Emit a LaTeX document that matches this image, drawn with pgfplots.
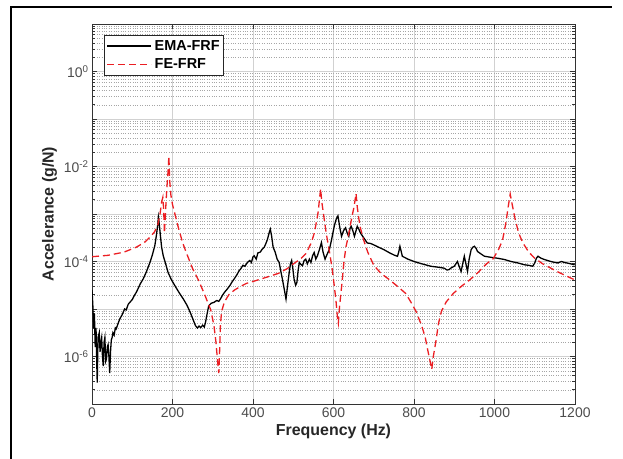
\documentclass[border=0pt]{standalone}
\usepackage{fontspec}
\setmainfont{Liberation Sans}
\usepackage{pgfplots}
\pgfplotsset{compat=1.18}
\definecolor{ferred}{RGB}{235,30,35}

\begin{document}
\begin{tikzpicture}
\path[use as bounding box] (0,0) rectangle (623bp,459bp);
% outer frame of the figure
\draw[line width=1.2bp] (11bp,0) -- (11bp,452bp) -- (612bp,452bp);
\begin{axis}[
    at={(92bp,55bp)}, anchor=south west,
    scale only axis,
    width=483bp, height=380bp,
    ymode=log,
    xmin=0, xmax=1200,
    ymin=1e-7, ymax=10,
    xtick={0,200,...,1200},
    xticklabels={0,200,400,600,800,1000,1200},
    ytick={1e-7,1e-6,1e-5,1e-4,1e-3,1e-2,1e-1,1,10},
    yticklabels={,10\textsuperscript{-6},,10\textsuperscript{-4},,10\textsuperscript{-2},,10\textsuperscript{0},},
    minor ytick={2e-7,3e-7,4e-7,5e-7,6e-7,7e-7,8e-7,9e-7,
                 2e-6,3e-6,4e-6,5e-6,6e-6,7e-6,8e-6,9e-6,
                 2e-5,3e-5,4e-5,5e-5,6e-5,7e-5,8e-5,9e-5,
                 2e-4,3e-4,4e-4,5e-4,6e-4,7e-4,8e-4,9e-4,
                 2e-3,3e-3,4e-3,5e-3,6e-3,7e-3,8e-3,9e-3,
                 2e-2,3e-2,4e-2,5e-2,6e-2,7e-2,8e-2,9e-2,
                 2e-1,3e-1,4e-1,5e-1,6e-1,7e-1,8e-1,9e-1,
                 2,3,4,5,6,7,8,9},
    grid=both,
    major grid style={black!18, line width=0.5bp},
    minor grid style={black!35, dotted, line width=0.4bp},
    xminorgrids=false,
    tick align=inside,
    major tick length=5bp, minor tick length=3bp,
    tick style={black!80, line width=0.5bp},
    axis line style={black!80, line width=0.8bp},
    ticklabel style={font=\fontsize{14}{16}\selectfont, text=black!70},
    xlabel={Frequency (Hz)},
    ylabel={Accelerance (g/N)},
    label style={font=\bfseries\fontsize{16}{18}\selectfont, text=black!85},
    legend style={at={(rel axis cs:0,1)}, anchor=north west,
        xshift=12bp, yshift=-11bp,
        draw=black!85, line width=0.8bp,
        font=\bfseries\fontsize{14.5}{16}\selectfont,
        inner xsep=2bp, inner ysep=3bp, row sep=3bp,
        /tikz/every odd column/.append style={column sep=1bp}},
    legend cell align=left,
    legend image code/.code={\draw[#1] (0bp,0bp) -- (44bp,0bp);},
]
\addplot[black, line width=1.3bp] coordinates {
(0,2.51e-5) (2,1.26e-5) (4,3.98e-6) (6,7.94e-6) (8,1.58e-6) (10,3.98e-6)
(12,6.31e-7) (13,2.82e-7) (15,2.51e-6) (18,3.16e-6) (20,1.26e-6) (22,2.00e-6)
(24,2.51e-6) (26,1.00e-6) (28,6.31e-7) (30,2.00e-6) (32,2.51e-6) (34,7.94e-7)
(36,8.91e-7) (38,1.58e-6) (40,1.78e-6) (42,1.00e-6) (44,4.47e-7) (46,1.26e-6)
(48,2.24e-6) (50,2.51e-6) (52,3.16e-6) (55,2.82e-6) (58,3.98e-6) (60,3.80e-6)
(65,5.01e-6) (69,6.17e-6) (75,7.59e-6) (81,1.00e-5) (85,9.55e-6) (90,1.26e-5)
(94,1.38e-5) (100,1.58e-5) (105,1.91e-5) (110,2.24e-5) (115,2.75e-5) (120,3.39e-5)
(127,4.27e-5) (135,6.03e-5) (144,9.55e-5) (150,1.38e-4) (156,2.14e-4) (160,3.55e-4)
(163,5.62e-4) (165,8.51e-4) (167,6.31e-4) (170,3.47e-4) (173,2.00e-4) (177,1.32e-4)
(183,8.91e-5) (189,5.89e-5) (197,4.17e-5) (206,3.09e-5) (216,2.24e-5) (227,1.62e-5)
(236,1.20e-5) (244,8.51e-6) (251,6.03e-6) (257,4.47e-6) (262,3.98e-6) (266,4.37e-6)
(270,4.07e-6) (275,4.57e-6) (279,4.17e-6) (282,5.25e-6) (286,7.94e-6) (290,1.17e-5)
(296,1.32e-5) (303,1.38e-5) (310,1.51e-5) (315,1.45e-5) (319,1.62e-5) (325,2.00e-5)
(330,2.29e-5) (336,2.63e-5) (343,3.16e-5) (348,3.72e-5) (353,4.27e-5) (360,5.25e-5)
(365,6.31e-5) (369,6.92e-5) (375,8.32e-5) (380,7.94e-5) (386,9.55e-5) (392,1.05e-4)
(396,9.55e-5) (400,1.26e-4) (403,1.32e-4) (408,1.12e-4) (412,1.51e-4) (418,1.58e-4)
(423,1.82e-4) (428,2.00e-4) (433,2.51e-4) (436,2.95e-4) (440,3.98e-4) (443,4.79e-4)
(446,3.55e-4) (450,2.00e-4) (455,1.58e-4) (460,1.12e-4) (465,9.55e-5) (469,6.31e-5)
(473,4.27e-5) (478,2.51e-5) (482,1.62e-5) (486,3.16e-5) (490,5.89e-5) (493,8.91e-5)
(496,1.05e-4) (499,7.08e-5) (502,4.27e-5) (506,3.16e-5) (509,3.63e-5) (512,6.31e-5)
(515,9.55e-5) (519,8.71e-5) (523,8.13e-5) (527,1.05e-4) (531,1.12e-4) (535,8.91e-5)
(540,1.12e-4) (544,9.55e-5) (548,1.32e-4) (552,1.55e-4) (556,1.12e-4) (560,1.32e-4)
(565,1.78e-4) (570,2.51e-4) (574,1.58e-4) (579,1.12e-4) (584,1.41e-4) (590,1.82e-4)
(595,2.82e-4) (602,5.62e-4) (607,7.94e-4) (611,9.12e-4) (616,5.01e-4) (620,3.39e-4)
(625,4.47e-4) (630,5.13e-4) (634,3.98e-4) (638,3.39e-4) (641,5.01e-4) (644,5.50e-4)
(648,4.47e-4) (652,3.39e-4) (656,4.47e-4) (659,5.50e-4) (663,4.79e-4) (667,3.98e-4)
(675,3.16e-4) (684,2.45e-4) (692,2.40e-4) (700,2.24e-4) (712,2.00e-4) (725,1.78e-4)
(740,1.51e-4) (752,1.35e-4) (759,1.29e-4) (762,1.58e-4) (765,2.09e-4) (768,1.66e-4)
(771,1.29e-4) (785,1.12e-4) (800,1.00e-4) (820,8.91e-5) (842,7.94e-5) (860,7.59e-5)
(875,7.24e-5) (882,6.61e-5) (887,6.76e-5) (893,7.41e-5) (900,7.94e-5) (904,8.91e-5)
(908,1.00e-4) (912,7.94e-5) (917,6.17e-5) (921,8.91e-5) (925,1.29e-4) (929,8.91e-5)
(933,6.17e-5) (937,1.12e-4) (942,1.78e-4) (946,2.00e-4) (950,2.09e-4) (954,1.91e-4)
(958,1.62e-4) (966,1.45e-4) (975,1.29e-4) (990,1.23e-4) (1008,1.17e-4) (1025,1.10e-4)
(1041,1.00e-4) (1058,9.33e-5) (1075,8.51e-5) (1085,8.32e-5) (1095,7.94e-5) (1100,9.33e-5)
(1104,1.17e-4) (1108,1.29e-4) (1116,1.17e-4) (1124,1.10e-4) (1140,1.00e-4) (1150,9.55e-5)
(1158,9.33e-5) (1166,1.00e-4) (1174,9.55e-5) (1185,9.12e-5) (1199,8.51e-5)
};
\addlegendentry{EMA-FRF}

\addplot[ferred, line width=1.3bp, dash pattern=on 7bp off 4bp] coordinates {
(0,1.26e-4) (40,1.35e-4) (80,1.58e-4) (110,2.00e-4) (130,2.51e-4) (145,3.31e-4)
(155,4.17e-4) (163,5.62e-4) (169,1.00e-3) (173,1.78e-3) (176,2.24e-3) (178,1.26e-3)
(180,3.98e-4) (183,1.26e-3) (186,3.55e-3) (189,7.94e-3) (191,1.66e-2) (193,5.01e-3)
(196,2.51e-3) (200,1.58e-3) (206,1.00e-3) (215,5.01e-4) (225,2.51e-4) (235,1.48e-4)
(250,7.08e-5) (265,3.98e-5) (280,2.00e-5) (295,9.55e-6) (303,4.47e-6) (308,2.00e-6)
(312,7.94e-7) (315,4.47e-7) (317,1.26e-6) (319,4.47e-6) (322,8.91e-6) (329,1.41e-5)
(340,2.00e-5) (354,2.51e-5) (370,3.02e-5) (384,3.47e-5) (400,3.80e-5) (423,4.37e-5)
(445,5.01e-5) (463,5.62e-5) (485,7.08e-5) (502,9.12e-5) (520,1.17e-4) (532,1.48e-4)
(545,2.51e-4) (552,3.89e-4) (558,7.08e-4) (562,1.12e-3) (565,2.00e-3) (568,3.39e-3)
(571,1.78e-3) (576,8.91e-4) (582,3.89e-4) (589,1.78e-4) (596,7.76e-5) (601,3.55e-5)
(606,1.55e-5) (610,6.31e-6) (612,5.01e-6) (615,1.12e-5) (621,3.47e-5) (626,1.00e-4)
(631,2.04e-4) (636,3.16e-4) (641,5.37e-4) (646,8.91e-4) (651,1.41e-3) (656,2.69e-3)
(659,1.41e-3) (663,7.94e-4) (667,5.01e-4) (675,2.82e-4) (685,1.58e-4) (700,8.32e-5)
(718,5.62e-5) (740,4.07e-5) (760,2.95e-5) (779,2.14e-5) (792,1.41e-5) (805,8.91e-6)
(819,4.47e-6) (828,2.51e-6) (834,1.38e-6) (840,7.94e-7) (844,5.37e-7) (848,1.00e-6)
(854,2.00e-6) (861,5.01e-6) (868,8.91e-6) (880,1.41e-5) (898,2.14e-5) (918,3.02e-5)
(938,4.07e-5) (958,5.75e-5) (980,8.91e-5) (997,1.15e-4) (1010,1.78e-4) (1020,2.82e-4)
(1028,6.31e-4) (1034,1.41e-3) (1039,2.63e-3) (1044,1.58e-3) (1051,7.94e-4) (1060,3.98e-4)
(1070,2.51e-4) (1085,1.58e-4) (1100,1.17e-4) (1120,8.91e-5) (1140,7.24e-5) (1160,5.89e-5)
(1180,4.90e-5) (1200,4.07e-5)
};
\addlegendentry{FE-FRF}
\end{axis}
\end{tikzpicture}
\end{document}
